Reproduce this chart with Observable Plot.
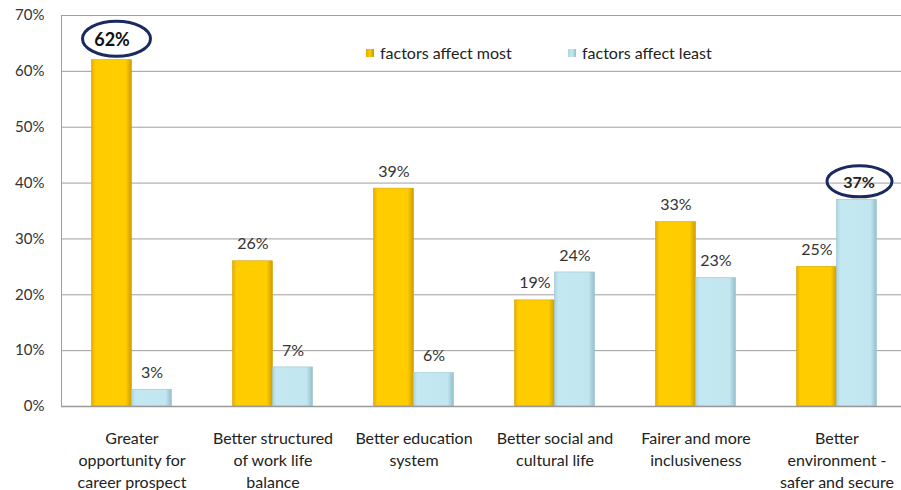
<!DOCTYPE html>
<html>
<head>
<meta charset="utf-8">
<script src="https://cdn.jsdelivr.net/npm/d3@7"></script>
<script src="https://cdn.jsdelivr.net/npm/@observablehq/plot@0.6"></script>
<style>
  html, body { margin: 0; padding: 0; background: #fff; }
  #wrap { position: relative; width: 901px; height: 490px; overflow: hidden; font-family: Lato, "Open Sans", sans-serif; }
  .leg { position: absolute; top: 43px; display: flex; align-items: center; font-size: 16px; color: #222; white-space: nowrap; }
  .leg i { display: inline-block; width: 8px; height: 8px; margin-right: 6px; }
</style>
</head>
<body>
<div id="wrap"></div>
<script>
const categories = [
  "Greater\nopportunity for\ncareer prospect",
  "Better structured\nof work life\nbalance",
  "Better education\nsystem",
  "Better social and\ncultural life",
  "Fairer and more\ninclusiveness",
  "Better\nenvironment -\nsafer and secure"
];
const series = ["factors affect most", "factors affect least"];
const mostValues = [62, 26, 39, 19, 33, 25];
const leastValues = [3, 7, 6, 24, 23, 37];
const highlighted = [["factors affect most", 0], ["factors affect least", 5]];
const yTicks = [0, 10, 20, 30, 40, 50, 60, 70];

const data = [];
categories.forEach((c, i) => {
  data.push({cat: c, series: series[0], value: mostValues[i], hi: highlighted.some(h => h[0] === series[0] && h[1] === i)});
  data.push({cat: c, series: series[1], value: leastValues[i], hi: highlighted.some(h => h[0] === series[1] && h[1] === i)});
});

const step = 141, barW = 40;
const insetOuter = (step / 2) - barW;
const insetInner = step / 2;

const most = data.filter(d => d.series === series[0]);
const least = data.filter(d => d.series === series[1]);
const txt = d => d.value + "%";
const F = "Lato, 'Open Sans', sans-serif";

const chart = Plot.plot({
  width: 901,
  height: 490,
  marginLeft: 61,
  marginRight: 0,
  marginTop: 15,
  marginBottom: 84,
  style: {fontFamily: F, fontSize: "16px", color: "#333", background: "#fff"},
  x: {domain: categories, range: [61, 61 + step * categories.length], padding: 0},
  y: {domain: [0, 70], ticks: yTicks},
  marks: [
    Plot.gridY(yTicks, {stroke: "#9f9f9f", strokeOpacity: 1, strokeWidth: 1}),
    Plot.ruleX([0], {x: () => categories[0], dx: -step / 2, y1: 0, y2: 70, stroke: "#9f9f9f"}),
    Plot.barY(most, {x: "cat", y: "value", fill: "url(#gradMost)", stroke: "#d6a400", strokeWidth: 0.6, insetLeft: insetOuter, insetRight: insetInner}),
    Plot.barY(least, {x: "cat", y: "value", fill: "url(#gradLeast)", stroke: "#9cc3cf", strokeWidth: 0.6, insetLeft: insetInner, insetRight: insetOuter}),
    Plot.text(most.filter(d => !d.hi), {x: "cat", y: "value", text: txt, dx: -barW / 2, dy: -17, fontSize: 16, fill: "#333"}),
    Plot.text(least.filter(d => !d.hi), {x: "cat", y: "value", text: txt, dx: barW / 2, dy: -17, fontSize: 16, fill: "#333"}),
    Plot.text(most.filter(d => d.hi), {x: "cat", y: "value", text: txt, dx: -barW / 2, dy: -20, fontSize: 18, fontWeight: "bold", fill: "#111"}),
    Plot.text(least.filter(d => d.hi), {x: "cat", y: "value", text: txt, dx: barW / 2 + 2, dy: -17, fontSize: 16, fontWeight: "bold", fill: "#222"}),
    Plot.ruleY([0], {stroke: "#9a9a9a", strokeWidth: 1.5}),
    Plot.axisY({ticks: yTicks, tickSize: 0, tickPadding: 17, tickFormat: d => d + "%", fontSize: 15, fill: "#333", label: null}),
    Plot.axisX({tickSize: 0, tickPadding: 22, lineHeight: 1.38, fontSize: 16, fill: "#222", label: null, textAnchor: "middle"})
  ]
});

const svg = d3.select(chart);
const defs = svg.insert("defs", ":first-child");
function grad(id, stops) {
  const g = defs.append("linearGradient").attr("id", id).attr("x1", "0").attr("x2", "1").attr("y1", "0").attr("y2", "0");
  stops.forEach(([o, c]) => g.append("stop").attr("offset", o).attr("stop-color", c));
}
grad("gradMost", [["0", "#e7ad00"], ["0.1", "#ffcc00"], ["0.85", "#ffcc00"], ["1", "#cf9c00"]]);
grad("gradLeast", [["0", "#a9d6e2"], ["0.1", "#c4e8f2"], ["0.85", "#c2e6f0"], ["1", "#93bfcb"]]);

const xs = chart.scale("x"), ys = chart.scale("y");
data.filter(d => d.hi).forEach(d => {
  const first = d.series === series[0];
  const cx = xs.apply(d.cat) + xs.bandwidth / 2 + (first ? -barW / 2 + 5 : barW / 2 + 3);
  const cy = ys.apply(d.value) + (first ? -21 : -18);
  svg.append("ellipse").attr("cx", cx).attr("cy", cy).attr("rx", first ? 34 : 32.5).attr("ry", first ? 17.5 : 15.5)
    .attr("fill", "none").attr("stroke", "#1b2a5e").attr("stroke-width", 3);
});

const wrap = document.getElementById("wrap");
wrap.appendChild(chart);

const swatch = {"factors affect most": "linear-gradient(90deg,#e0a800,#ffcc00,#c89600)", "factors affect least": "linear-gradient(90deg,#a9d6e2,#c4e8f2,#93bfcb)"};
const legLeft = [366, 568];
series.forEach((s, i) => {
  const it = document.createElement("div");
  it.className = "leg";
  it.style.left = legLeft[i] + "px";
  it.innerHTML = `<i style="background:${swatch[s]}"></i>${s}`;
  wrap.appendChild(it);
});
</script>
</body>
</html>
